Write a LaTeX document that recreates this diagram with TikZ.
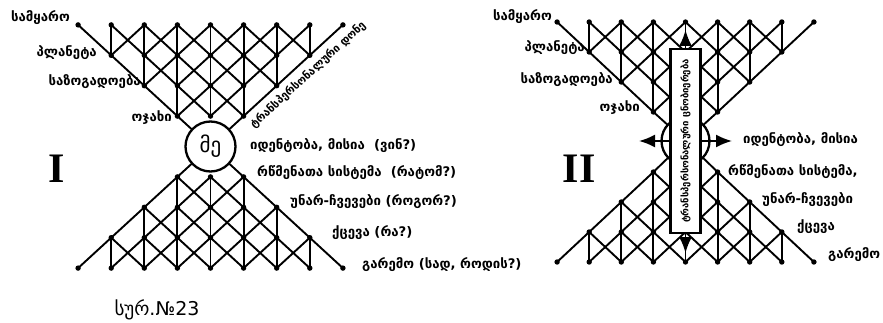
\documentclass[tikz,border=0pt]{standalone}
\usepackage{fontspec}
\setmainfont{DejaVu Sans}
\newfontfamily\geo{DejaVu Sans}
\newfontfamily\romfont{Liberation Serif}
\usetikzlibrary{arrows.meta}
\newcommand\drawlattice[5]{%
  % #1 prefix, #2 cx, #3 cy, #4 dx, #5 dy
  \foreach \rr in {0,...,3}{%
    \pgfmathtruncatemacro\cmax{8-\rr}%
    \foreach \cc in {\rr,...,\cmax}{%
      \coordinate (#1u\cc-\rr) at ({#2+(\cc-4)*#4},{#3-(4-\rr)*#5});
      \coordinate (#1l\cc-\rr) at ({#2+(\cc-4)*#4},{#3+(4-\rr)*#5});
    }%
  }%
  \foreach \rr in {0,1,2}{%
    \pgfmathtruncatemacro\rn{\rr+1}%
    \pgfmathtruncatemacro\ca{6-\rr}%
    \foreach \cc in {\rr,...,\ca}{%
      \pgfmathtruncatemacro\cn{\cc+1}%
      \draw[lat] (#1u\cc-\rr) -- (#1u\cn-\rn);
      \draw[lat] (#1l\cc-\rr) -- (#1l\cn-\rn);
    }%
    \pgfmathtruncatemacro\cb{\rr+2}%
    \pgfmathtruncatemacro\ce{8-\rr}%
    \foreach \cc in {\cb,...,\ce}{%
      \pgfmathtruncatemacro\cp{\cc-1}%
      \draw[lat] (#1u\cc-\rr) -- (#1u\cp-\rn);
      \draw[lat] (#1l\cc-\rr) -- (#1l\cp-\rn);
    }%
    \pgfmathtruncatemacro\va{\rr+1}%
    \pgfmathtruncatemacro\vb{7-\rr}%
    \foreach \cc in {\va,...,\vb}{%
      \draw[lat] (#1u\cc-\rr) -- (#1u\cc-\rn);
      \draw[lat] (#1l\cc-\rr) -- (#1l\cc-\rn);
    }%
  }%
  \foreach \rr in {0,...,3}{%
    \pgfmathtruncatemacro\cmax{8-\rr}%
    \foreach \cc in {\rr,...,\cmax}{%
      \fill (#1u\cc-\rr) circle (2.7pt);
      \fill (#1l\cc-\rr) circle (2.7pt);
    }%
  }%
}
\begin{document}
\begin{tikzpicture}[x=1pt,y=-1pt,
  lat/.style={line width=1.9pt, line cap=round},
  lab/.style={font=\geo\bfseries\fontsize{13.2}{15}\selectfont, inner sep=0pt},
  ring/.style={draw, circle, line width=2.3pt, inner sep=0pt},
  roman/.style={font=\romfont\bfseries\fontsize{42}{42}\selectfont, inner sep=0pt},
  arr/.style={line width=1.9pt, -{Latex[length=16pt,width=13pt]}}
]
\useasboundingbox (0,0) rectangle (883,323);
% ---------------- diagram I
\drawlattice{A}{210.5}{146.5}{33.1}{30.4}
\node[ring, minimum size=50pt, font=\geo\fontsize{21}{21}\selectfont] (Acirc) at (210.5,146.5) {მე};
\draw[lat] (Au3-3) -- (Acirc);
\draw[lat] (Au5-3) -- (Acirc);
\draw[lat] (Al3-3) -- (Acirc);
\draw[lat] (Al5-3) -- (Acirc);
\node[lab, anchor=east] (A1) at (70,18) {სამყარო};
\node[lab, anchor=east] (A2) at (97,53) {პლანეტა};
\node[lab, anchor=east] (A3) at (141,82) {საზოგადოება};
\node[lab, anchor=east] (A4) at (172,118) {ოჯახი};
\node[lab, rotate=42.5, font=\geo\bfseries\fontsize{11}{13}\selectfont] (A5) at (308,75) {ტრანსპერსონალური დონე};
\node[lab, anchor=west] (A6) at (250,146) {იდენტობა, მისია \ (ვინ?)};
\node[lab, anchor=west] (A7) at (257,173) {რწმენათა სისტემა \ (რატომ?)};
\node[lab, anchor=west] (A8) at (290,202) {უნარ-ჩვევები (როგორ?)};
\node[lab, anchor=west] (A9) at (332,233) {ქცევა (რა?)};
\node[lab, anchor=west] (A10) at (362,265) {გარემო (სად, როდის?)};
\node[roman] (AR) at (57,169) {I};
\node[inner sep=0pt, font=\geo\fontsize{19}{19}\selectfont] (cap) at (157,310) {სურ.№23};
% ---------------- diagram II
\drawlattice{B}{685.5}{142}{32.1}{30}
\node[ring, minimum size=48pt] (Bcirc) at (685.5,141) {};
\draw[lat] (Bu3-3) -- (Bcirc);
\draw[lat] (Bu5-3) -- (Bcirc);
\draw[lat] (Bl3-3) -- (Bcirc);
\draw[lat] (Bl5-3) -- (Bcirc);
\node[draw, fill=white, line width=2.6pt, minimum width=30pt, minimum height=184pt, inner sep=0pt] (Bbox) at (685.5,141) {};
\node[rotate=90, inner sep=0pt, font=\geo\bfseries\fontsize{9.5}{11}\selectfont] (Btxt) at (685.5,141) {ტრანსპერსონალური ცნობიერება};
\coordinate (Btop) at (685.5,30);
\coordinate (Bbot) at (685.5,253);
\coordinate (Bleft) at (639,141);
\coordinate (Bright) at (732,141);
\draw[arr] (Bbox.north) -- (Btop);
\draw[arr] (Bbox.south) -- (Bbot);
\draw[arr] (Bbox.west) -- (Bleft);
\draw[arr] (Bbox.east) -- (Bright);
\node[lab, anchor=east] (B1) at (552,17) {სამყარო};
\node[lab, anchor=east] (B2) at (585,48) {პლანეტა};
\node[lab, anchor=east] (B3) at (613,80) {საზოგადოება};
\node[lab, anchor=east] (B4) at (640,108) {ოჯახი};
\node[lab, anchor=west] (B6) at (743,140) {იდენტობა, მისია};
\node[lab, anchor=west] (B7) at (728,172) {რწმენათა სისტემა,};
\node[lab, anchor=west] (B8) at (762,200) {უნარ-ჩვევები};
\node[lab, anchor=west] (B9) at (797,227) {ქცევა};
\node[lab, anchor=west] (B10) at (828,255) {გარემო};
\node[roman] (BR) at (579,169) {II};
\end{tikzpicture}
\end{document}
